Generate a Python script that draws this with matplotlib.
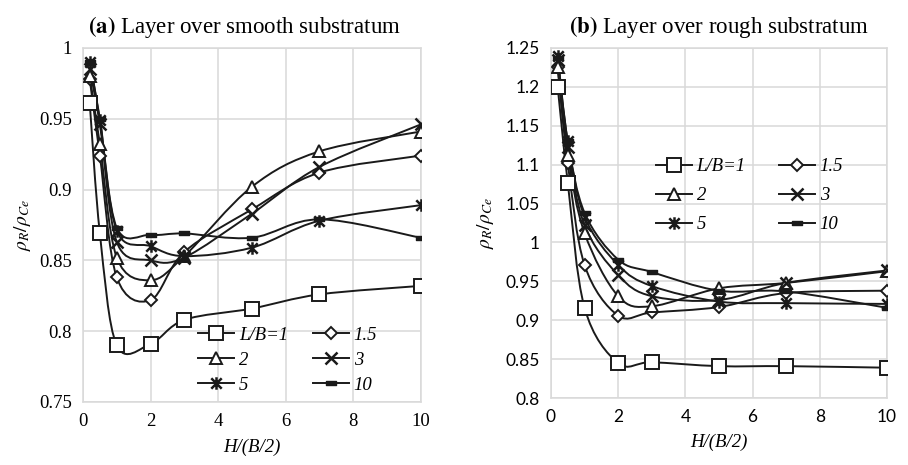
import numpy as np
import matplotlib
matplotlib.use('Agg')
import matplotlib.pyplot as plt
from matplotlib.path import Path
from matplotlib.patches import PathPatch
from matplotlib.lines import Line2D

plt.rcParams['mathtext.fontset'] = 'stix'

# H/(B/2) values
h_ratio = [0.2, 0.5, 1, 2, 3, 5, 7, 10]
series_labels = ['L/B=1', '1.5', '2', '3', '5', '10']

# (a) smooth substratum
smooth_lb1 = [0.961, 0.869, 0.790, 0.791, 0.808, 0.816, 0.826, 0.832]
smooth_lb15 = [0.978, 0.924, 0.838, 0.822, 0.856, 0.886, 0.912, 0.924]
smooth_lb2 = [0.980, 0.932, 0.852, 0.836, 0.853, 0.902, 0.927, 0.941]
smooth_lb3 = [0.985, 0.946, 0.863, 0.850, 0.852, 0.883, 0.916, 0.946]
smooth_lb5 = [0.990, 0.949, 0.871, 0.860, 0.853, 0.859, 0.878, 0.889]
smooth_lb10 = [0.990, 0.950, 0.873, 0.868, 0.869, 0.866, 0.879, 0.866]

# (b) rough substratum
rough_lb1 = [1.200, 1.077, 0.916, 0.845, 0.846, 0.841, 0.841, 0.839]
rough_lb15 = [1.225, 1.102, 0.971, 0.906, 0.910, 0.917, 0.935, 0.938]
rough_lb2 = [1.225, 1.113, 1.012, 0.931, 0.918, 0.941, 0.948, 0.963]
rough_lb3 = [1.235, 1.123, 1.022, 0.958, 0.931, 0.926, 0.948, 0.964]
rough_lb5 = [1.240, 1.130, 1.033, 0.971, 0.944, 0.924, 0.922, 0.921]
rough_lb10 = [1.237, 1.130, 1.038, 0.978, 0.962, 0.938, 0.937, 0.916]

# custom markers: excel-like asterisk and short dash
star_path = Path([(-1, -1), (1, 1), (-1, 1), (1, -1), (0, -1.2), (0, 1.2)],
                 [Path.MOVETO, Path.LINETO, Path.MOVETO, Path.LINETO, Path.MOVETO, Path.LINETO])
dash_path = Path([(-1, -0.35), (1, -0.35), (1, 0.35), (-1, 0.35), (-1, -0.35)],
                 [Path.MOVETO, Path.LINETO, Path.LINETO, Path.LINETO, Path.CLOSEPOLY])

marker_styles = [
    dict(marker='s', ms=10.5, mfc='white', mew=1.4),
    dict(marker='D', ms=6.5, mfc='white', mew=1.4),
    dict(marker='^', ms=9, mfc='white', mew=1.4),
    dict(marker='x', ms=9, mew=1.8),
    dict(marker=star_path, ms=9, mew=1.8, mfc='none'),
    dict(marker=dash_path, ms=7, mfc='#1a1a1a', mew=1.0),
]
INK = '#1a1a1a'


def smooth_path(xs, ys):
    # excel style smoothed line: bezier segments, catmull-rom control points
    pts = list(zip(xs, ys))
    verts = [pts[0]]
    codes = [Path.MOVETO]
    n = len(pts)
    for i in range(n - 1):
        p0 = pts[i - 1] if i > 0 else pts[i]
        p1 = pts[i]
        p2 = pts[i + 1]
        p3 = pts[i + 2] if i + 2 < n else pts[i + 1]
        c1 = (p1[0] + (p2[0] - p0[0]) / 6, p1[1] + (p2[1] - p0[1]) / 6)
        c2 = (p2[0] - (p3[0] - p1[0]) / 6, p2[1] - (p3[1] - p1[1]) / 6)
        verts += [c1, c2, p2]
        codes += [Path.CURVE4] * 3
    return Path(verts, codes)


def draw_panel(ax, series, title, ylim, yticks, tick_family, tick_size, ylabelpad, title_x):
    for vals, st in zip(series, marker_styles):
        ax.add_patch(PathPatch(smooth_path(h_ratio, vals), fc='none', ec=INK, lw=1.4, zorder=3))
        ax.plot(h_ratio, vals, ls='none', color=INK, mec=INK, zorder=4, **st)
    ax.set_xlim(0, 10)
    ax.set_ylim(*ylim)
    ax.set_xticks(range(0, 11, 2))
    ax.set_yticks(yticks)
    ax.set_yticklabels(['%g' % t for t in yticks])
    ax.grid(True, color='#d9d9d9', lw=1.1)
    ax.set_axisbelow(True)
    for s in ax.spines.values():
        s.set_color('#d9d9d9')
        s.set_linewidth(1.1)
    ax.tick_params(length=0, pad=8, labelsize=tick_size, labelfontfamily=tick_family)
    ax.set_xlabel('H/(B/2)', family='Liberation Serif', style='italic', fontsize=13.5, labelpad=6)
    ax.set_ylabel(r'$\rho_R/\rho_{Ce}$', fontsize=14, labelpad=ylabelpad)
    ax.set_title(title, fontsize=16.5, fontfamily='Liberation Serif', pad=11, x=title_x)


fig = plt.figure(figsize=(9.08, 4.65), dpi=100)
ax1 = fig.add_axes([0.0914, 0.1355, 0.372, 0.7613])
ax2 = fig.add_axes([0.6068, 0.144, 0.370, 0.7528])

draw_panel(ax1, [smooth_lb1, smooth_lb15, smooth_lb2, smooth_lb3, smooth_lb5, smooth_lb10],
           r'$\mathbf{(a)}$ Layer over smooth substratum', (0.75, 1.0),
           [0.75, 0.8, 0.85, 0.9, 0.95, 1.0], 'Liberation Serif', 13.5, 4, 0.478)
draw_panel(ax2, [rough_lb1, rough_lb15, rough_lb2, rough_lb3, rough_lb5, rough_lb10],
           r'$\mathbf{(b)}$ Layer over rough substratum', (0.8, 1.25),
           [0.8, 0.85, 0.9, 0.95, 1.0, 1.05, 1.1, 1.15, 1.2, 1.25], 'Lato', 12.5, 7, 0.5)

# legends, filled row by row like excel
handles = [Line2D([], [], color=INK, lw=1.4, mec=INK, **st) for st in marker_styles]
order = [0, 2, 4, 1, 3, 5]
for ax, loc, lsp, csp in [(ax1, (0.292, -0.025), 0.42, 1.35), (ax2, (0.263, 0.422), 0.64, 1.8)]:
    ax.legend([handles[i] for i in order], [series_labels[i] for i in order],
              ncol=2, loc='lower left', bbox_to_anchor=loc, frameon=False,
              handlelength=1.9, handletextpad=0.25, columnspacing=csp, labelspacing=lsp,
              prop=dict(family='Liberation Serif', style='italic', size=13.5))

fig.savefig('out.png', dpi=100)
